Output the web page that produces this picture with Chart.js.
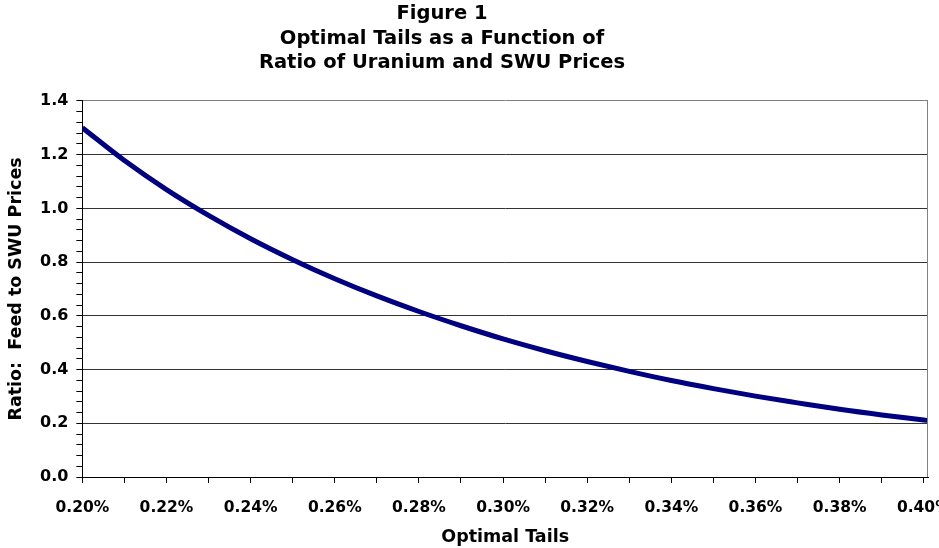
<!DOCTYPE html>
<html>
<head>
<meta charset="utf-8">
<script src="https://cdn.jsdelivr.net/npm/chart.js@4.4.0/dist/chart.umd.min.js"></script>
<style>
  html, body { margin: 0; padding: 0; background: #fff; }
  #wrap { width: 939px; height: 548px; }
</style>
</head>
<body>
<div id="wrap"><canvas id="tailsChart"></canvas></div>
<script>
// optimal tails assay (%) and feed/SWU price ratio
const tails = [0.20, 0.21, 0.22, 0.23, 0.24, 0.25, 0.26, 0.27, 0.28, 0.29, 0.30,
               0.31, 0.32, 0.33, 0.34, 0.35, 0.36, 0.37, 0.38, 0.39, 0.40, 0.401]
const ratio = [1.300, 1.178, 1.070, 0.974, 0.887, 0.809, 0.738, 0.674, 0.616, 0.563, 0.514,
               0.470, 0.430, 0.393, 0.359, 0.329, 0.301, 0.276, 0.252, 0.231, 0.212, 0.210]

const xTickValues = [0.20, 0.21, 0.22, 0.23, 0.24, 0.25, 0.26, 0.27, 0.28, 0.29, 0.30,
                     0.31, 0.32, 0.33, 0.34, 0.35, 0.36, 0.37, 0.38, 0.39, 0.40]
const xTickLabels = ["0.20%", "", "0.22%", "", "0.24%", "", "0.26%", "", "0.28%", "", "0.30%",
                     "", "0.32%", "", "0.34%", "", "0.36%", "", "0.38%", "", "0.40%"]
const yMajor = [0.0, 0.2, 0.4, 0.6, 0.8, 1.0, 1.2, 1.4]
const yLabels = ["0.0", "0.2", "0.4", "0.6", "0.8", "1.0", "1.2", "1.4"]

const FONT = "'DejaVu Sans', sans-serif"

const points = tails.map((t, i) => ({ x: t, y: ratio[i] }))

const isMajorY = v => yMajor.some(m => Math.abs(m - v) < 1e-6)

// grey frame line on the right of the plot, title shifted left like the original
const frameRight = {
    id: "frameRight",
    afterLayout(chart) {
        const t = chart.titleBlock
        if (t) {
            t.left = 0
            t.right = 884
            t.width = 884
        }
    },
    afterDatasetsDraw(chart) {
        const a = chart.chartArea
        const c = chart.ctx
        c.save()
        c.strokeStyle = "#808080"
        c.lineWidth = 1
        c.beginPath()
        c.moveTo(Math.round(a.right) - 0.5, a.top)
        c.lineTo(Math.round(a.right) - 0.5, a.bottom)
        c.stroke()
        c.restore()
    }
}

const ctx = document.getElementById("tailsChart")

new Chart(ctx, {
    type: "line",
    data: {
        datasets: [{
            label: "Optimal tails",
            data: points,
            borderColor: "#000080",
            borderWidth: 5,
            pointRadius: 0,
            fill: false,
            cubicInterpolationMode: "monotone"
        }]
    },
    options: {
        responsive: true,
        maintainAspectRatio: false,
        animation: false,
        layout: { padding: { left: 0, right: 0, top: 0, bottom: 0 } },
        plugins: {
            legend: { display: false },
            tooltip: { enabled: false },
            title: {
                display: true,
                text: ["Figure 1", "Optimal Tails as a Function of", "Ratio of Uranium and SWU Prices"],
                color: "#000",
                font: { family: FONT, size: 19.5, weight: "bold", lineHeight: 1.246 },
                padding: { top: 2, bottom: 26 }
            }
        },
        scales: {
            x: {
                type: "linear",
                min: 0.20,
                max: 0.401,
                afterBuildTicks: scale => {
                    scale.ticks = xTickValues.map(v => ({ value: v }))
                },
                afterFit: scale => {
                    scale.paddingRight = 11
                    scale.height = 71
                },
                ticks: {
                    autoSkip: false,
                    maxRotation: 0,
                    padding: 16,
                    color: "#000",
                    font: { family: FONT, size: 15.5, weight: "bold" },
                    callback: (value, index) => xTickLabels[index]
                },
                grid: {
                    drawOnChartArea: false,
                    tickLength: 6,
                    tickColor: "#000"
                },
                border: { color: "#000", width: 1 },
                title: {
                    display: true,
                    text: "Optimal Tails",
                    color: "#000",
                    font: { family: FONT, size: 17.5, weight: "bold" },
                    padding: { top: 0, bottom: 0 }
                }
            },
            y: {
                min: 0,
                max: 1.4,
                afterBuildTicks: scale => {
                    const t = []
                    for (let i = 0; i < yMajor.length - 1; i++) {
                        const step = (yMajor[i + 1] - yMajor[i]) / 5
                        for (let k = 0; k < 5; k++) t.push({ value: yMajor[i] + k * step })
                    }
                    t.push({ value: yMajor[yMajor.length - 1] })
                    scale.ticks = t
                },
                ticks: {
                    autoSkip: false,
                    padding: 8,
                    color: "#000",
                    font: { family: FONT, size: 16, weight: "bold" },
                    callback: value => {
                        const i = yMajor.findIndex(m => Math.abs(m - value) < 1e-6)
                        return i >= 0 ? yLabels[i] : ""
                    }
                },
                grid: {
                    tickLength: 6,
                    tickColor: "#000",
                    color: c => {
                        const v = c.tick ? c.tick.value : 0
                        if (!isMajorY(v)) return "rgba(0,0,0,0)"
                        if (Math.abs(v - 1.4) < 1e-6) return "#808080"
                        return "#333333"
                    }
                },
                border: { color: "#000", width: 1 },
                title: {
                    display: true,
                    text: "Ratio:  Feed to SWU Prices",
                    color: "#000",
                    font: { family: FONT, size: 17.5, weight: "bold" },
                    padding: { top: 6, bottom: 5 }
                }
            }
        }
    },
    plugins: [frameRight]
})
</script>
</body>
</html>
